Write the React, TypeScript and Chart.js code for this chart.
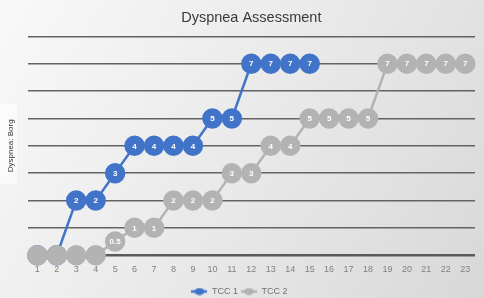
import React, { useEffect, useRef } from "react";
import { Chart, registerables } from "chart.js";

Chart.register(...registerables);

const categories = ["1","2","3","4","5","6","7","8","9","10","11","12","13","14","15","16","17","18","19","20","21","22","23"];
const tcc1: (number | null)[] = [0, 0, 2, 2, 3, 4, 4, 4, 4, 5, 5, 7, 7, 7, 7, null, null, null, null, null, null, null, null];
const tcc2: (number | null)[] = [0, 0, 0, 0, 0.5, 1, 1, 2, 2, 2, 3, 3, 4, 4, 5, 5, 5, 5, 7, 7, 7, 7, 7];
const seriesNames = ["TCC 1", "TCC 2"];
const yTicks = [0, 1, 2, 3, 4, 5, 6, 7, 8];

const BLUE = "#4174c9";
const GRAY = "#b3b3b3";

function legendIcon(color: string) {
  const c = document.createElement("canvas");
  c.width = 16;
  c.height = 8;
  const g = c.getContext("2d")!;
  g.strokeStyle = color;
  g.lineWidth = 2.5;
  g.beginPath();
  g.moveTo(0, 4);
  g.lineTo(16, 4);
  g.stroke();
  g.fillStyle = color;
  g.beginPath();
  g.ellipse(8, 4, 5, 3.5, 0, 0, Math.PI * 2);
  g.fill();
  return c;
}

const bgPlugin = {
  id: "bg",
  beforeDraw(chart: any) {
    const { ctx, width, height } = chart;
    const grd = ctx.createLinearGradient(0, 0, width, height);
    grd.addColorStop(0, "#f9f9f9");
    grd.addColorStop(0.55, "#e8e8e8");
    grd.addColorStop(1, "#d8d8d8");
    ctx.save();
    ctx.fillStyle = grd;
    ctx.fillRect(0, 0, width, height);
    ctx.fillStyle = "rgba(255,255,255,0.6)";
    ctx.fillRect(0, 104, 17, 80);
    ctx.restore();
  },
};

const labelPlugin = {
  id: "ptlabels",
  afterDatasetsDraw(chart: any) {
    const { ctx } = chart;
    ctx.save();
    ctx.fillStyle = "#ffffff";
    ctx.font = "bold 8px 'Liberation Sans', Arial, sans-serif";
    ctx.textAlign = "center";
    ctx.textBaseline = "middle";
    chart.data.datasets.forEach((ds: any, i: number) => {
      const meta = chart.getDatasetMeta(i);
      meta.data.forEach((pt: any, j: number) => {
        const v = ds.data[j];
        if (v === null || v === 0 || v === undefined) return;
        ctx.fillText(String(v), pt.x, pt.y + 0.5);
      });
    });
    ctx.restore();
  },
};

export default function App() {
  const ref = useRef<HTMLCanvasElement>(null);
  useEffect(() => {
    document.body.style.margin = "0";
    const chart = new Chart(ref.current!, {
      type: "line",
      data: {
        labels: categories,
        datasets: [
          {
            label: seriesNames[0],
            data: tcc1,
            borderColor: BLUE,
            backgroundColor: BLUE,
            pointBackgroundColor: BLUE,
            pointBorderColor: BLUE,
            borderWidth: 2.5,
            pointRadius: 9,
            pointHoverRadius: 9,
            spanGaps: false,
            clip: false,
            order: 2,
          },
          {
            label: seriesNames[1],
            data: tcc2,
            borderColor: GRAY,
            backgroundColor: GRAY,
            pointBackgroundColor: GRAY,
            pointBorderColor: GRAY,
            borderWidth: 2.5,
            pointRadius: 9,
            pointHoverRadius: 9,
            clip: false,
            order: 1,
          },
        ],
      },
      options: {
        animation: false,
        responsive: false,
        maintainAspectRatio: false,
        layout: { autoPadding: false, padding: { left: 4, right: 9, top: 0, bottom: -8 } },
        plugins: {
          title: {
            display: true,
            fullSize: false,
            text: "Dyspnea Assessment",
            color: "#3a3a3a",
            font: { size: 14.5, family: "'Liberation Sans', Arial, sans-serif", weight: "normal" },
            padding: { top: 9, bottom: 10 },
          },
          legend: {
            position: "bottom",
            labels: {
              color: "#707070",
              font: { size: 9, family: "'Liberation Sans', Arial, sans-serif" },
              usePointStyle: true,
              pointStyleWidth: 16,
              boxHeight: 8,
              padding: 3,
              generateLabels(chart: any) {
                const items = Chart.defaults.plugins.legend.labels.generateLabels(chart);
                return items
                  .sort((a: any, b: any) => a.datasetIndex - b.datasetIndex)
                  .map((it: any) => ({ ...it, pointStyle: legendIcon(it.datasetIndex === 0 ? BLUE : GRAY) }));
              },
            },
          },
          tooltip: { enabled: false },
        },
        scales: {
          x: {
            offset: true,
            grid: { display: false },
            border: { display: false },
            ticks: { color: "#808080", font: { size: 9, family: "'Liberation Sans', Arial, sans-serif" }, padding: 1, maxRotation: 0, autoSkip: false },
            afterFit(axis: any) {
              axis.height += 8;
            },
          },
          y: {
            min: yTicks[0],
            max: yTicks[yTicks.length - 1],
            afterBuildTicks(axis: any) {
              axis.ticks = yTicks.map((v) => ({ value: v }));
            },
            border: { display: false },
            grid: {
              drawTicks: false,
              color: (c: any) => (c.tick && c.tick.value === 0 ? "#5a5a5a" : "#636363"),
              lineWidth: (c: any) => (c.tick && c.tick.value === 0 ? 2.5 : 1.4),
            },
            ticks: { display: false },
            title: {
              display: true,
              text: "Dyspnea: Borg",
              color: "#333333",
              font: { size: 8, family: "'Liberation Sans', Arial, sans-serif" },
              padding: { top: 2, bottom: 12 },
            },
          },
        },
      },
      plugins: [bgPlugin, labelPlugin],
    } as any);
    return () => chart.destroy();
  }, []);
  return (
    <div style={{ position: "absolute", left: 0, top: 0, width: 484, height: 298 }}>
      <canvas ref={ref} width={484} height={298} style={{ width: 484, height: 298 }} />
    </div>
  );
}
